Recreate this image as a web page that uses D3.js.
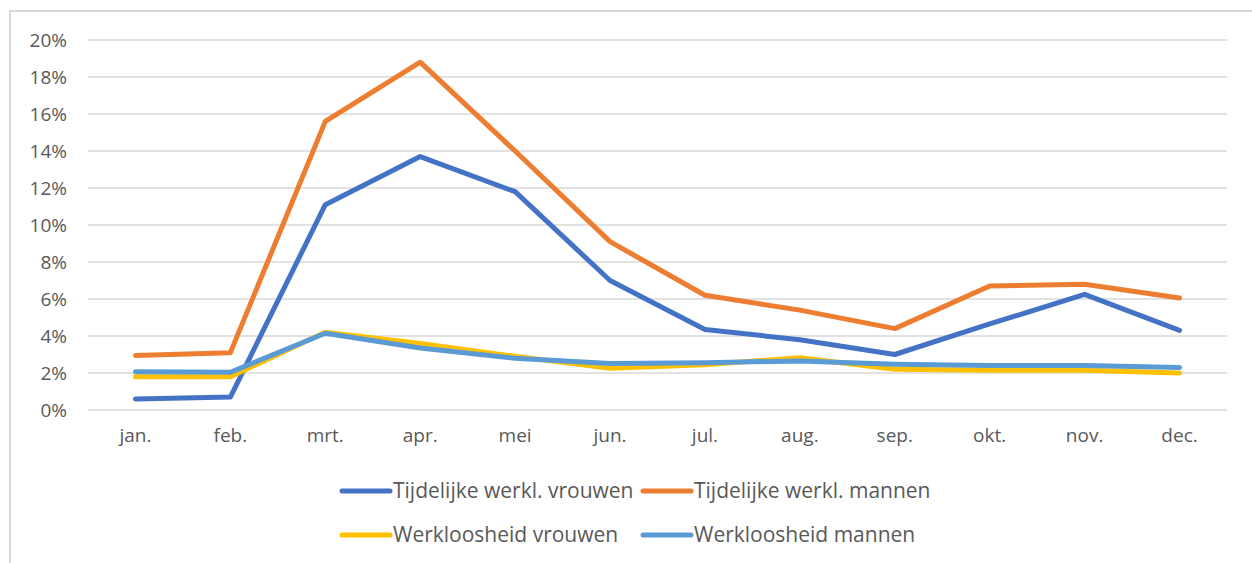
<!DOCTYPE html>
<html>
<head>
<meta charset="utf-8">
<script src="https://cdn.jsdelivr.net/npm/d3@7"></script>
<style>
  body { margin: 0; background: #fff; }
  svg text { font-family: "Open Sans", sans-serif; fill: #595959; }
</style>
</head>
<body>
<svg id="chart" width="1252" height="563"></svg>
<script>
// months and series (percent)
const months = ["jan.", "feb.", "mrt.", "apr.", "mei", "jun.", "jul.", "aug.", "sep.", "okt.", "nov.", "dec."];
const tijdVrouwen = [0.6, 0.7, 11.1, 13.7, 11.8, 7.0, 4.35, 3.8, 3.0, 4.65, 6.25, 4.3];
const tijdMannen = [2.95, 3.1, 15.6, 18.8, 14.0, 9.1, 6.2, 5.4, 4.4, 6.7, 6.8, 6.05];
const werkVrouwen = [1.8, 1.8, 4.2, 3.6, 2.9, 2.25, 2.45, 2.83, 2.2, 2.15, 2.15, 2.0];
const werkMannen = [2.07, 2.04, 4.15, 3.35, 2.8, 2.52, 2.56, 2.65, 2.47, 2.4, 2.4, 2.3];
const yTicks = [0, 2, 4, 6, 8, 10, 12, 14, 16, 18, 20];

const series = [
    { name: "Tijdelijke werkl. vrouwen", values: tijdVrouwen, color: "#4472c4" },
    { name: "Tijdelijke werkl. mannen", values: tijdMannen, color: "#ed7d31" },
    { name: "Werkloosheid vrouwen", values: werkVrouwen, color: "#ffc000" },
    { name: "Werkloosheid mannen", values: werkMannen, color: "#5b9bd5" }
];

const svg = d3.select("#chart");

// chart border
svg.append("rect")
    .attr("x", 10).attr("y", 11)
    .attr("width", 1260).attr("height", 570)
    .attr("fill", "none")
    .attr("stroke", "#d9d9d9")
    .attr("stroke-width", 2);

const x = d3.scaleBand().domain(months).range([88, 1227]);
const y = d3.scaleLinear().domain([0, 20]).range([410, 40]);

// gridlines
svg.append("g")
    .selectAll("line")
    .data(yTicks)
    .enter()
    .append("line")
    .attr("x1", 88).attr("x2", 1227)
    .attr("y1", d => y(d)).attr("y2", d => y(d))
    .attr("stroke", "#d9d9d9")
    .attr("stroke-width", 1.5);

// y labels
const yAxis = d3.axisLeft(y).tickValues(yTicks).tickFormat(d => d + "%").tickSize(0).tickPadding(0);
const yG = svg.append("g").attr("transform", "translate(67,0)").call(yAxis);
yG.select(".domain").remove();
yG.selectAll("text")
    .attr("font-size", 19)
    .attr("dy", "0.35em")
    .attr("fill", "#595959")
    .style("font-family", null);

// x labels
const xAxis = d3.axisBottom(x).tickSize(0).tickPadding(0);
const xG = svg.append("g").attr("transform", "translate(0,428)").call(xAxis);
xG.select(".domain").remove();
xG.selectAll("text")
    .attr("font-size", 19)
    .attr("dy", "0.71em")
    .attr("fill", "#595959")
    .style("font-family", null);

// lines
const line = d3.line()
    .x((d, i) => x(months[i]) + x.bandwidth() / 2)
    .y(d => y(d));

svg.append("g")
    .selectAll("path")
    .data(series)
    .enter()
    .append("path")
    .attr("d", d => line(d.values))
    .attr("fill", "none")
    .attr("stroke", d => d.color)
    .attr("stroke-width", 5)
    .attr("stroke-linejoin", "round")
    .attr("stroke-linecap", "round");

// legend
const legendPos = [[340, 491], [641, 491], [340, 535], [641, 535]];
const legend = svg.append("g")
    .selectAll("g")
    .data(series)
    .enter()
    .append("g")
    .attr("transform", (d, i) => "translate(" + legendPos[i][0] + "," + legendPos[i][1] + ")");

legend.append("line")
    .attr("x1", 2).attr("x2", 50)
    .attr("stroke", d => d.color)
    .attr("stroke-width", 5)
    .attr("stroke-linecap", "round");

legend.append("text")
    .attr("x", 53)
    .attr("dy", "0.35em")
    .attr("font-size", 21)
    .text(d => d.name);
</script>
</body>
</html>
